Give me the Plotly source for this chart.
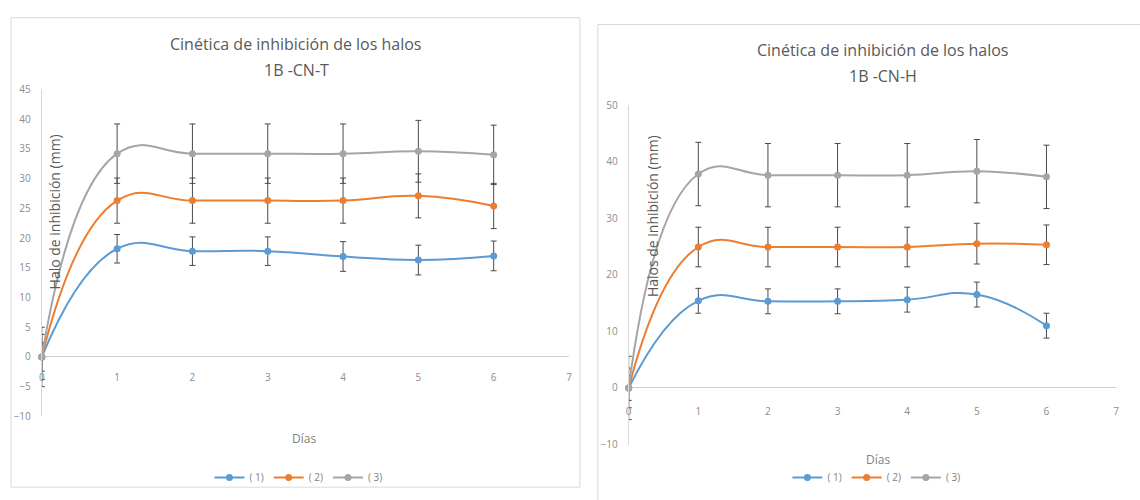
import plotly.graph_objects as go

W, H = 1140, 500

days = [0, 1, 2, 3, 4, 5, 6]
series_names = ["( 1)", "( 2)", "( 3)"]
colors = ["#5B9BD5", "#ED7D31", "#A5A5A5"]

# Left chart: 1B -CN-T
t1 = [0, 18.2, 17.8, 17.8, 16.9, 16.3, 17.0]
t1_err = [2.4, 2.4, 2.4, 2.4, 2.5, 2.5, 2.5]
t2 = [0, 26.3, 26.3, 26.3, 26.3, 27.1, 25.4]
t2_err = [3.8, 3.8, 3.8, 3.8, 3.8, 3.7, 3.8]
t3 = [0, 34.2, 34.2, 34.2, 34.2, 34.6, 34.0]
t3_err = [5.0, 5.0, 5.0, 5.0, 5.0, 5.2, 5.0]

# Right chart: 1B -CN-H
h1 = [0, 15.4, 15.3, 15.3, 15.6, 16.5, 11.0]
h1_err = [2.2, 2.2, 2.2, 2.2, 2.2, 2.2, 2.2]
h2 = [0, 24.9, 24.9, 24.9, 24.9, 25.5, 25.3]
h2_err = [3.5, 3.5, 3.5, 3.5, 3.5, 3.6, 3.5]
h3 = [0, 37.8, 37.6, 37.6, 37.6, 38.3, 37.3]
h3_err = [5.6, 5.6, 5.6, 5.6, 5.6, 5.6, 5.6]

fig = go.Figure()

def add_series(ys, errs, name, color, xa, ya, legend):
    fig.add_trace(go.Scatter(
        x=days, y=ys, name=name, mode="lines+markers",
        line=dict(color=color, width=2, shape="spline", smoothing=1.3),
        marker=dict(color=color, size=7, symbol="circle"),
        error_y=dict(type="data", array=errs, visible=True, color="#4a4a4a",
                     thickness=1, width=3),
        xaxis=xa, yaxis=ya, legend=legend, cliponaxis=False,
    ))

for ys, es, n, c in zip([t1, t2, t3], [t1_err, t2_err, t3_err], series_names, colors):
    add_series(ys, es, n, c, "x", "y", "legend")
for ys, es, n, c in zip([h1, h2, h3], [h1_err, h2_err, h3_err], series_names, colors):
    add_series(ys, es, n, c, "x2", "y2", "legend2")

def px_x(p):
    return p / W

def px_y(p):
    return 1 - p / H

tick_font = dict(family="Open Sans", size=10, color="#8c8c8c")
axis_common = dict(showgrid=False, tickfont=tick_font, fixedrange=True)

fig.update_layout(
    width=W, height=H, autosize=False,
    margin=dict(l=0, r=0, t=0, b=0),
    paper_bgcolor="white", plot_bgcolor="white",
    font=dict(family="Open Sans", color="#595959"),
    xaxis=dict(domain=[px_x(39), px_x(569)], range=[0, 7], dtick=1,
               anchor="free", position=px_y(360), showline=False, zeroline=False,
               ticks="outside", ticklen=11, tickcolor="rgba(0,0,0,0)", **axis_common),
    yaxis=dict(domain=[px_y(421), px_y(84)], range=[-10, 45], dtick=5,
               anchor="x", showline=True, linecolor="#d9d9d9", linewidth=1,
               zeroline=True, zerolinecolor="#d0d0d0", zerolinewidth=1,
               ticks="outside", ticklen=8, tickcolor="rgba(0,0,0,0)", **axis_common),
    xaxis2=dict(domain=[px_x(629), px_x(1119)], range=[0, 7], dtick=1,
                anchor="free", position=px_y(392), showline=False, zeroline=False,
                ticks="outside", ticklen=14, tickcolor="rgba(0,0,0,0)", **axis_common),
    yaxis2=dict(domain=[px_y(450), px_y(100)], range=[-10, 50], dtick=10,
                anchor="x2", showline=True, linecolor="#d9d9d9", linewidth=1,
                zeroline=True, zerolinecolor="#d0d0d0", zerolinewidth=1,
                ticks="outside", ticklen=8, tickcolor="rgba(0,0,0,0)", **axis_common),
    legend=dict(orientation="h", x=px_x(297), y=px_y(484), xanchor="center", yanchor="middle",
                font=dict(family="Open Sans", size=10, color="#7f7f7f"),
                bgcolor="rgba(0,0,0,0)", itemwidth=30),
    legend2=dict(orientation="h", x=px_x(878), y=px_y(484), xanchor="center", yanchor="middle",
                 font=dict(family="Open Sans", size=10, color="#7f7f7f"),
                 bgcolor="rgba(0,0,0,0)", itemwidth=30),
    showlegend=True,
)

title_font = dict(family="Open Sans", size=16, color="#595959")
ytitle_font = dict(family="Open Sans", size=14, color="#595959")
xtitle_font = dict(family="Open Sans", size=12, color="#7f7f7f")
ann = [
    dict(text="Cinética de inhibición de los halos", x=px_x(295), y=px_y(37), font=title_font),
    dict(text="1B -CN-T", x=px_x(295), y=px_y(64), font=title_font),
    dict(text="Cinética de inhibición de los halos", x=px_x(885), y=px_y(43), font=title_font),
    dict(text="1B -CN-H", x=px_x(885), y=px_y(70), font=title_font),
    dict(text="Halo de inhibición (mm)", x=px_x(52), y=px_y(210), textangle=-90, font=ytitle_font),
    dict(text="Halos de inhibición (mm)", x=px_x(653), y=px_y(215), textangle=-90, font=ytitle_font),
    dict(text="Días", x=px_x(303), y=px_y(444), font=xtitle_font),
    dict(text="Días", x=px_x(880), y=px_y(465), font=xtitle_font),
]
for a in ann:
    fig.add_annotation(xref="paper", yref="paper", showarrow=False,
                       xanchor="center", yanchor="middle", **a)

fig.add_shape(type="rect", xref="paper", yref="paper",
              x0=px_x(8), y0=px_y(494), x1=px_x(580), y1=px_y(10),
              line=dict(color="#d9d9d9", width=1), layer="below")
fig.add_shape(type="rect", xref="paper", yref="paper",
              x0=px_x(598), y0=px_y(520), x1=px_x(1160), y1=px_y(17),
              line=dict(color="#d9d9d9", width=1), layer="below")

fig.write_html("out.html")
